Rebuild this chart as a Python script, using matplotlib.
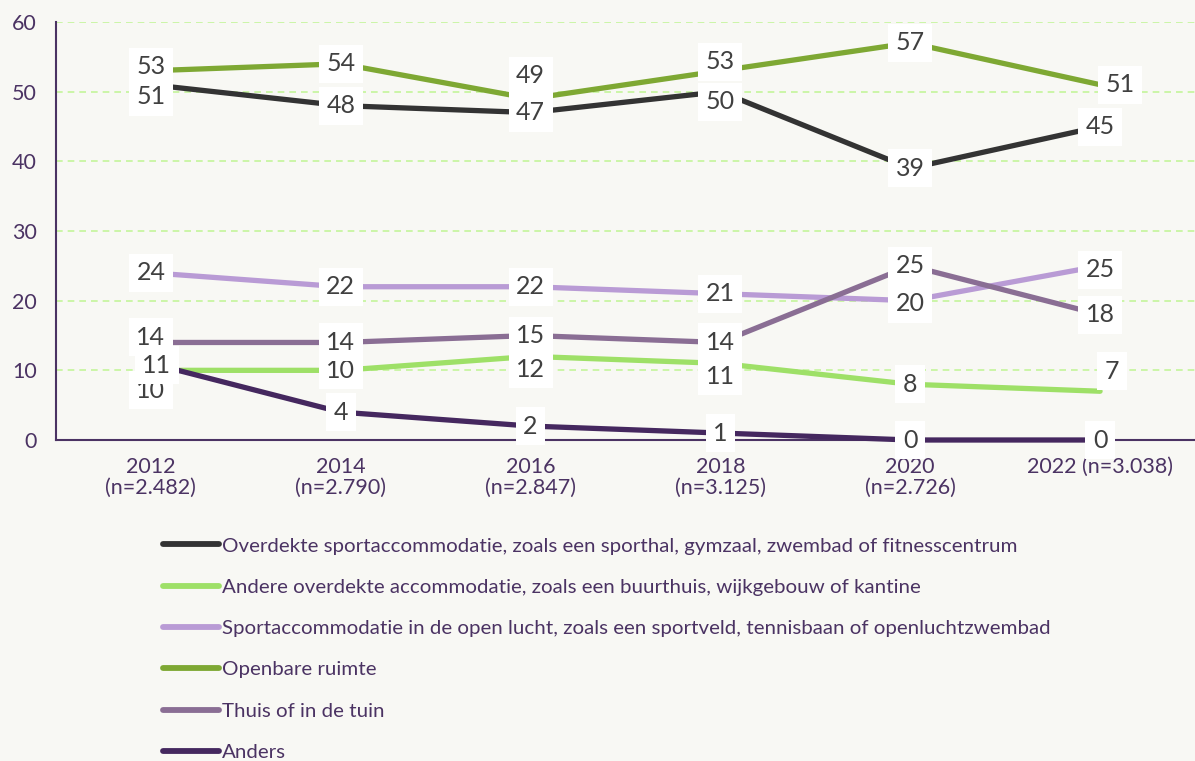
import matplotlib
matplotlib.use("Agg")
import matplotlib.pyplot as plt

# ---- data ----
years = ["2012\n(n=2.482)", "2014\n(n=2.790)", "2016\n(n=2.847)",
         "2018\n(n=3.125)", "2020\n(n=2.726)", "2022 (n=3.038)"]

series_names = [
    "Overdekte sportaccommodatie, zoals een sporthal, gymzaal, zwembad of fitnesscentrum",
    "Andere overdekte accommodatie, zoals een buurthuis, wijkgebouw of kantine",
    "Sportaccommodatie in de open lucht, zoals een sportveld, tennisbaan of openluchtzwembad",
    "Openbare ruimte",
    "Thuis of in de tuin",
    "Anders",
]
overdekte = [51, 48, 47, 50, 39, 45]
andere_overdekt = [10, 10, 12, 11, 8, 7]
open_lucht = [24, 22, 22, 21, 20, 25]
openbare_ruimte = [53, 54, 49, 53, 57, 51]
thuis = [14, 14, 15, 14, 25, 18]
anders = [11, 4, 2, 1, 0, 0]

# ---- style ----
colors = ["#333333", "#9ee067", "#b99bd5", "#7ea833", "#8a6e94", "#45285f"]
purple = "#4b3363"
bg = "#f8f8f4"

# label offsets (pixels) so boxes don't collide
label_dy = [
    [-12, 0, 0, -10, 0, 0],
    [-20, 0, -13, -13, 0, 20],
    [0, 0, 0, 0, -3, -4],
    [4, 0, 23, 9, 0, 0],
    [5, 0, 0, 0, 0, 0],
    [-2, 0, 0, 0, 0, 0],
]
label_dx = [
    [0, 0, 0, 0, 0, 0],
    [0, 0, 0, 0, 0, 12],
    [0, 0, 0, 0, 0, 0],
    [0, 0, 0, 0, 0, 20],
    [0, 0, 0, 0, 0, 0],
    [6, 0, 0, 0, 0, 0],
]

plt.rcParams["font.family"] = ["Lato", "DejaVu Sans"]

fig = plt.figure(figsize=(11.95, 7.61), dpi=100, facecolor=bg)
ax = fig.add_axes([56 / 1195, 1 - 440 / 761, 1 - 56 / 1195, 418 / 761])
ax.set_facecolor(bg)

all_series = [overdekte, andere_overdekt, open_lucht, openbare_ruimte, thuis, anders]
x = list(range(len(years)))

for i, vals in enumerate(all_series):
    ax.plot(x, vals, color=colors[i], lw=3.8, solid_capstyle="round",
            label=series_names[i], zorder=3 + i * 0.1, clip_on=False)

for i, vals in enumerate(all_series):
    for j, v in enumerate(vals):
        ax.annotate(str(v), (x[j], v), xytext=(label_dx[i][j], label_dy[i][j]),
                    textcoords="offset pixels", ha="center", va="center",
                    fontsize=18, color="#404040", zorder=10,
                    bbox=dict(boxstyle="square,pad=0.3", fc="white", ec="none"))

ax.set_xlim(-0.5, 5.5)
ax.set_ylim(0, 60)
ax.set_yticks(range(0, 61, 10))
ax.set_xticks(x)
ax.set_xticklabels(years, linespacing=1.05)
ax.yaxis.grid(True, color="#c4f59a", ls=(0, (4, 3)), lw=1.2)
ax.set_axisbelow(True)
ax.tick_params(axis="both", length=0, labelsize=15.5, colors=purple)
ax.tick_params(axis="y", pad=14)
ax.tick_params(axis="x", pad=12)
for s in ["top", "right"]:
    ax.spines[s].set_visible(False)
for s in ["left", "bottom"]:
    ax.spines[s].set_color(purple)
    ax.spines[s].set_linewidth(1.5)

leg = fig.legend(loc="upper left", bbox_to_anchor=(155 / 1195, 1 - 529 / 761),
                 frameon=False, fontsize=14.75, labelcolor=purple,
                 handlelength=2.7, handletextpad=0.15, labelspacing=1.17,
                 borderaxespad=0)
for h in leg.get_lines():
    h.set_linewidth(4.2)
    h.set_solid_capstyle("round")

fig.savefig("out.png", dpi=100, facecolor=bg)
